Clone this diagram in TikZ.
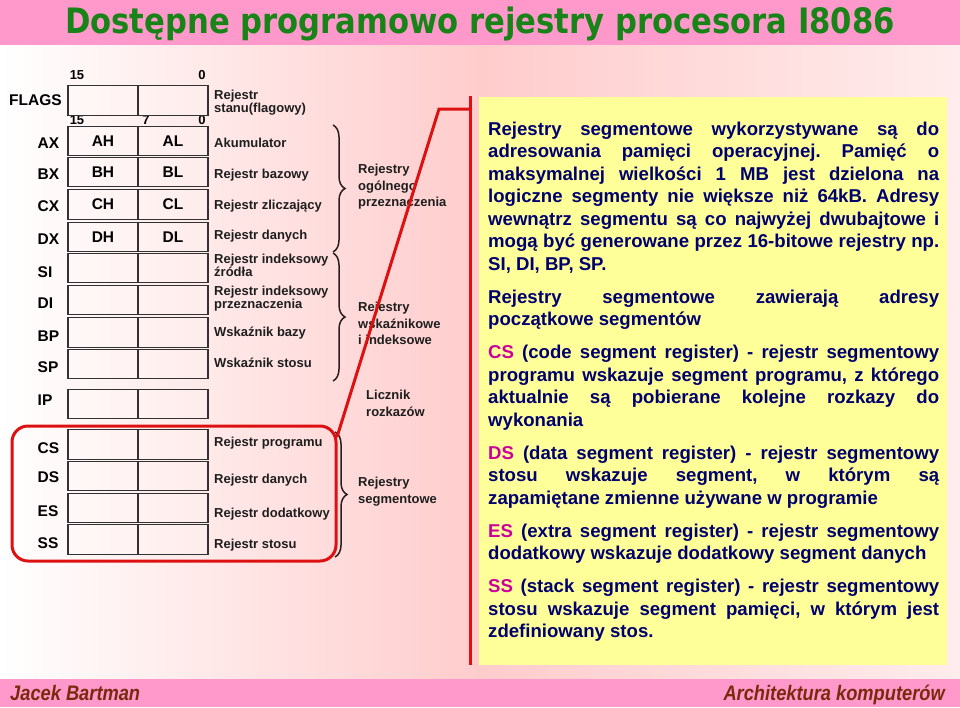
\documentclass[tikz,border=0pt]{standalone}
\usepackage{fontspec}
\setmainfont{Liberation Sans}
\newfontfamily\titlefont{DejaVu Sans}[FakeStretch=0.876]
\newfontfamily\footfont{Liberation Sans}[FakeStretch=0.87]
\usetikzlibrary{decorations.pathreplacing}
\definecolor{band}{RGB}{255,153,204}
\definecolor{bgpink}{RGB}{255,204,204}
\definecolor{bgright}{RGB}{255,236,236}
\definecolor{titlegreen}{RGB}{24,132,24}
\definecolor{footbrown}{RGB}{122,42,12}
\definecolor{navy}{RGB}{0,0,110}
\definecolor{segmag}{RGB}{204,0,153}
\definecolor{note}{RGB}{255,255,153}
\definecolor{redline}{RGB}{221,17,17}
\definecolor{boxline}{RGB}{50,50,50}
\definecolor{descgray}{RGB}{30,30,30}
\definecolor{bracecol}{RGB}{40,30,30}
\begin{document}
\begin{tikzpicture}[x=1pt,y=-1pt,
  half/.style={draw=boxline, line width=1.2pt, fill=white, fill opacity=0.15, text opacity=1,
    minimum width=70pt, minimum height=29.5pt, inner sep=0pt, font=\fontsize{15.5}{16}\selectfont\bfseries},
  reglbl/.style={anchor=west, inner sep=0pt, font=\fontsize{15.5}{16}\selectfont\bfseries},
  bitlbl/.style={inner sep=0pt, font=\fontsize{13}{14}\selectfont\bfseries},
  desc/.style={anchor=base west, inner sep=0pt, text=descgray, font=\fontsize{13}{13}\selectfont\bfseries},
  desc2/.style={anchor=north west, inner sep=0pt, align=left, text=descgray, font=\fontsize{13}{13}\selectfont\bfseries},
  grp/.style={anchor=north west, inner sep=0pt, align=left, text=descgray, font=\fontsize{13}{16.5}\selectfont\bfseries},
  bracestyle/.style={draw=bracecol, line width=1.5pt, decorate, decoration={brace, amplitude=12pt}},
  redl/.style={draw=redline, line width=3pt}
]
\useasboundingbox (0,0) rectangle (960,707);
% background
\shade[left color=white, right color=bgpink] (0,45) rectangle (480,679);
\shade[left color=bgpink, right color=bgright] (480,45) rectangle (960,679);
\fill[band] (0,0) rectangle (960,45);
\fill[band] (0,679) rectangle (960,707);

% bit numbers
\node[bitlbl] (b15a) at (77,75) {15};
\node[bitlbl] (b0a) at (202,75) {0};
\node[bitlbl] (b15b) at (77,120) {15};
\node[bitlbl] (b7b) at (146,120) {7};
\node[bitlbl] (b0b) at (202,120) {0};

% FLAGS
\node[half] (FLh) at (103,100.5) {};
\node[half] (FLl) at (173,100.5) {};
\node[reglbl] (FLlbl) at (9,100.5) {FLAGS};

% registers
\foreach \n/\y/\ly/\hi/\lo in {AX/141/143/AH/AL, BX/172/174/BH/BL, CX/204.5/206/CH/CL, DX/237/239/DH/DL,
  SI/268/272/{}/{}, DI/300/303/{}/{}, BP/332.5/336/{}/{}, SP/364/367/{}/{}, IP/404/400/{}/{},
  CS/444.5/448/{}/{}, DS/476/477/{}/{}, ES/508/511/{}/{}, SS/539.5/543/{}/{}}{
  \node[half] (\n h) at (103,\y) {\hi};
  \node[half] (\n l) at (173,\y) {\lo};
  \node[reglbl] (\n lbl) at (37.5,\ly) {\n};
}

% descriptions
\node[desc2] (dFL) at (214,89.5) {Rejestr\\stanu(flagowy)};
\node[desc] (dAX) at (214,147.5) {Akumulator};
\node[desc] (dBX) at (214,178.5) {Rejestr bazowy};
\node[desc] (dCX) at (214,209.5) {Rejestr zliczający};
\node[desc] (dDX) at (214,239.5) {Rejestr danych};
\node[desc2] (dSI) at (214,254) {Rejestr indeksowy\\źródła};
\node[desc2] (dDI) at (214,286) {Rejestr indeksowy\\przeznaczenia};
\node[desc] (dBP) at (214,336.5) {Wskaźnik bazy};
\node[desc] (dSP) at (214,367.5) {Wskaźnik stosu};
\node[desc] (dCS) at (214,446.5) {Rejestr programu};
\node[desc] (dDS) at (214,483.5) {Rejestr danych};
\node[desc] (dES) at (214,517.5) {Rejestr dodatkowy};
\node[desc] (dSS) at (214,548.5) {Rejestr stosu};

% braces
\draw[bracestyle] (333,125) -- (333,252);
\draw[bracestyle] (333,253) -- (333,381);
\draw[bracestyle] (335,432) -- (335,557);

% group labels
\node[grp] (gOg) at (358,164) {Rejestry\\ogólnego\\przeznaczenia};
\node[grp] (gWs) at (358,302) {Rejestry\\wskaźnikowe\\i indeksowe};
\node[grp] (gLi) at (366,390) {Licznik\\rozkazów};
\node[grp] (gSe) at (358,477) {Rejestry\\segmentowe};

% note box
\fill[note] (479,97) rectangle (947,665);

% red frame and lines
\draw[redl, rounded corners=16pt] (12,426) rectangle (336,561);
\coordinate (rtop) at (337,437);
\coordinate (bend) at (439,109);
\coordinate (jn) at (470,109);
\coordinate (barTop) at (470,96);
\coordinate (barBot) at (470,665);
\draw[redl] (rtop) -- (bend) -- (jn);
\draw[redl] (barTop) -- (barBot);

% note text
\node[anchor=north west, text width=451pt, inner sep=0pt, align=justify, text=navy,
  font=\fontsize{18.6}{22.5}\selectfont\bfseries] (notetext) at (488,121.5) {%
\frenchspacing\setlength{\parskip}{10.5pt}\hyphenpenalty=10000\exhyphenpenalty=10000\tolerance=10000%
Rejestry segmentowe wykorzystywane są do\linebreak adresowania pamięci operacyjnej. Pamięć o\linebreak maksymalnej wielkości 1 MB jest dzielona na\linebreak logiczne segmenty nie większe niż 64kB. Adresy\linebreak wewnątrz segmentu są co najwyżej dwubajtowe i\linebreak mogą być generowane przez 16-bitowe rejestry np.\linebreak SI, DI, BP, SP.\par
Rejestry segmentowe zawierają adresy\linebreak początkowe segmentów\par
\textcolor{segmag}{CS} (code segment register) - rejestr segmentowy\linebreak programu wskazuje segment programu, z którego\linebreak aktualnie są pobierane kolejne rozkazy do\linebreak wykonania\par
\textcolor{segmag}{DS} (data segment register) - rejestr segmentowy\linebreak stosu wskazuje segment, w którym są\linebreak zapamiętane zmienne używane w programie\par
\textcolor{segmag}{ES} (extra segment register) - rejestr segmentowy\linebreak dodatkowy wskazuje dodatkowy segment danych\par
\textcolor{segmag}{SS} (stack segment register) - rejestr segmentowy\linebreak stosu wskazuje segment pamięci, w którym jest\linebreak zdefiniowany stos.};

% title and footer
\node[anchor=base, inner sep=0pt, text=titlegreen, font=\titlefont\fontsize{35}{40}\selectfont\bfseries] (title) at (480,33) {Dostępne programowo rejestry procesora I8086};
\node[anchor=base west, inner sep=0pt, text=footbrown, font=\footfont\fontsize{21}{24}\selectfont\bfseries\itshape] (author) at (10,700.5) {Jacek Bartman};
\node[anchor=base east, inner sep=0pt, text=footbrown, font=\footfont\fontsize{21}{24}\selectfont\bfseries\itshape] (course) at (945,700.5) {Architektura komputerów};
\end{tikzpicture}
\end{document}
